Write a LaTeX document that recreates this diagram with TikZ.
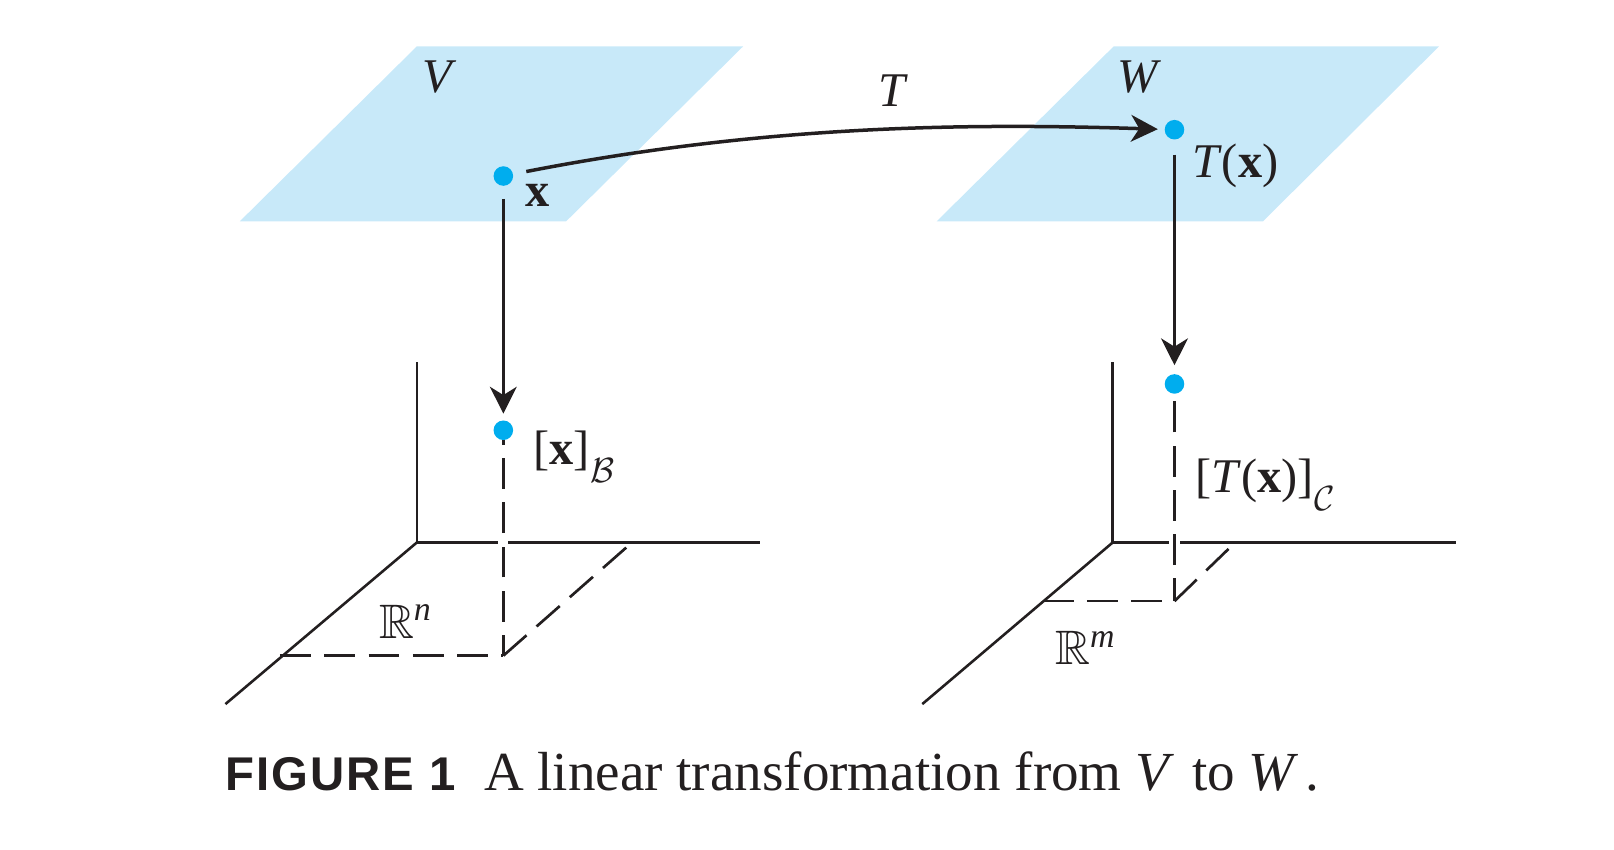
\RequirePackage{fix-cm}
\documentclass[tikz,border=0pt]{standalone}
\usepackage{amsmath,amssymb}
\usepackage{fontspec}
\setmainfont{Liberation Serif}
\newfontfamily\capsans[LetterSpace=4]{Liberation Sans}
\usetikzlibrary{arrows.meta}
\definecolor{planeblue}{HTML}{C8E9F9}
\definecolor{dotblue}{HTML}{00ADEE}
\definecolor{ink}{HTML}{231F20}
\newcommand{\lowsub}[1]{\raisebox{-18pt}{\fontsize{34}{34}\selectfont$#1$}}
\begin{document}
\begin{tikzpicture}[x=1pt,y=-1pt,
  plane/.style={fill=planeblue,draw=none},
  axis/.style={ink,line width=2.5pt},
  gapline/.style={white,line width=4pt},
  dsh/.style={ink,line width=2.6pt,dash pattern=on 30pt off 13pt},
  arr/.style={ink,line width=3.4pt,-{Stealth[length=26pt,width=26pt,inset=8pt]}},
  dot/.style={circle,fill=dotblue,inner sep=0pt,minimum size=19pt},
  lbl/.style={font=\fontsize{47}{52}\selectfont,inner sep=0pt,text=ink}
]
\useasboundingbox (0,0) rectangle (1568,825);
% planes
\fill[plane] (233,215) -- (550,215) -- (722,45) -- (405,45) -- cycle;
\fill[plane] (910,215) -- (1227,215) -- (1398,45) -- (1082,45) -- cycle;
% axes left
\draw[axis] (405,352) -- (405,527) -- (738,527);
\draw[axis] (405,527) -- (219,684);
\draw[gapline] (484,527) -- (494,527);
% axes right
\draw[axis] (1081,352) -- (1081,527) -- (1414,527);
\draw[axis] (1081,527) -- (896,684);
\draw[gapline] (1136,527) -- (1146,527);
% dots
\node[dot] (x) at (489,171) {};
\node[dot] (Tx) at (1141,126) {};
\node[dot] (xB) at (489,418) {};
\node[dot] (TxC) at (1141,373) {};
\coordinate (cl) at (489,637);
\coordinate (cr) at (1141,584);
% dashed
\draw[dsh,dash phase=10pt] (cl) -- (xB.south);
\draw[dsh] (272,637) -- (cl);
\draw[dsh] (cl) -- (614,527);
\draw[dsh,dash phase=8pt] (cr) -- (TxC.south);
\draw[dsh] (1013,584) -- (cr);
\draw[dsh] (cr) -- (1200,527);
% arrows
\draw[arr,shorten <=12.5pt,shorten >=6.5pt] (x) -- (xB);
\draw[arr,shorten <=14.5pt,shorten >=8.5pt] (Tx) -- (TxC);
\draw[arr,shorten <=13pt,shorten >=6.5pt] (x) .. controls (750,120) and (950,120) .. (Tx);
% labels
\node[lbl] (lV) at (427,75) {\textit{V}};
\node[lbl] (lW) at (1107,75) {\textit{W}};
\node[lbl] (lT) at (868,88) {\textit{T}};
\node[lbl] (lx) at (522,190) {\textbf{x}};
\node[lbl,anchor=base west] (lTx) at (1158,172) {\textit{T}(\textbf{x})};
\node[lbl,anchor=base west] (lxB) at (518,451) {[\textbf{x}]\kern1pt\lowsub{\mathcal{B}}};
\node[lbl,anchor=base west] (lTxC) at (1161,478) {[\textit{T}(\textbf{x})]\kern1pt\lowsub{\mathcal{C}}};
\node[lbl,anchor=base west] (lRn) at (368,620) {$\mathbb{R}^{\textit{n}}$};
\node[lbl,anchor=base west] (lRm) at (1025,646) {$\mathbb{R}^{\textit{m}}$};
% caption
\node[anchor=base west,inner sep=0pt,text=ink,font=\capsans\bfseries\fontsize{46}{50}\selectfont] (fig) at (219,768) {FIGURE 1};
\node[anchor=base west,inner sep=0pt,text=ink,font=\fontsize{53.5}{58}\selectfont] (cap) at (470,768) {A linear transformation from \textit{V}\kern4pt\ to \textit{W}\kern6pt.};
\end{tikzpicture}
\end{document}
